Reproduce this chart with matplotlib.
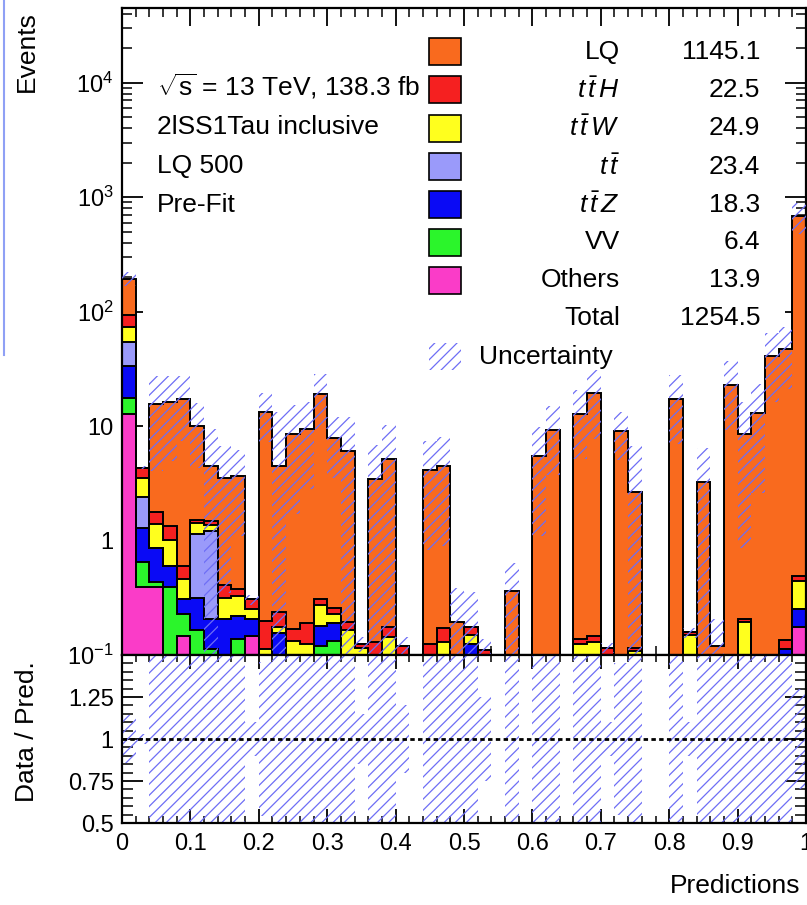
import numpy as np
import matplotlib
matplotlib.use("Agg")
import matplotlib.pyplot as plt
from matplotlib.patches import Rectangle
from matplotlib.ticker import FixedLocator, FuncFormatter, MultipleLocator, LogLocator, NullFormatter

plt.rcParams["font.family"] = ["Liberation Sans", "DejaVu Sans"]
plt.rcParams["mathtext.fontset"] = "custom"
plt.rcParams["mathtext.rm"] = "Liberation Sans"
plt.rcParams["mathtext.it"] = "Liberation Sans:italic"
plt.rcParams["mathtext.bf"] = "Liberation Sans:bold"
plt.rcParams["hatch.linewidth"] = 0.9

# ---- binned predictions (50 bins on [0, 1]) ----
bin_edges = np.linspace(0.0, 1.0, 51)

others = [12.65, 0.39, 0.39, 0, 0.148, 0, 0, 0, 0, 0.146,
          0, 0, 0, 0, 0, 0, 0, 0, 0, 0,
          0, 0, 0, 0, 0, 0, 0, 0, 0, 0,
          0, 0, 0, 0, 0, 0, 0, 0, 0, 0,
          0, 0, 0, 0, 0, 0, 0, 0, 0, 0.177]
vv = [4.955, 0.262, 0.046, 0.39, 0.078, 0.167, 0.112, 0, 0.137, 0,
      0, 0, 0, 0, 0.121, 0.132, 0, 0, 0, 0,
      0, 0, 0, 0, 0, 0, 0, 0, 0, 0,
      0, 0, 0, 0, 0, 0, 0, 0, 0, 0,
      0, 0, 0, 0, 0, 0, 0, 0, 0, 0]
ttz = [15.779, 0.638, 0.427, 0.207, 0.08, 0.149, 0.093, 0.205, 0.081, 0.059,
       0, 0.156, 0, 0, 0.058, 0.059, 0, 0, 0, 0,
       0, 0, 0, 0, 0, 0.124, 0, 0, 0, 0,
       0, 0, 0, 0, 0, 0, 0, 0, 0, 0,
       0, 0, 0, 0, 0, 0, 0, 0, 0.112, 0.073]
ttbar = [20.451, 1.12, 0, 0, 0, 0.834, 0.995, 0, 0, 0,
         0, 0, 0, 0, 0, 0, 0, 0, 0, 0,
         0, 0, 0, 0, 0, 0, 0, 0, 0, 0,
         0, 0, 0, 0, 0, 0, 0, 0, 0, 0,
         0, 0, 0, 0, 0, 0, 0, 0, 0, 0]
ttw = [19.964, 1.11, 0.537, 0.423, 0.16, 0.28, 0.16, 0.111, 0.109, 0.045,
       0.112, 0.021, 0.132, 0.124, 0.092, 0.035, 0.167, 0.116, 0, 0.145,
       0, 0, 0, 0.13, 0, 0.027, 0, 0, 0, 0,
       0, 0, 0, 0.125, 0.13, 0, 0, 0.108, 0, 0,
       0, 0.151, 0, 0, 0, 0.194, 0, 0, 0, 0.192]
tth = [19.333, 0.79, 0.38, 0.31, 0.131, 0.07, 0.11, 0.094, 0.047, 0.056,
       0.086, 0.06, 0.038, 0.065, 0.035, 0.033, 0.027, 0.008, 0.13, 0.032,
       0.12, 0, 0.124, 0.043, 0, 0.026, 0.11, 0, 0, 0,
       0, 0, 0, 0.014, 0.016, 0.116, 0, 0.008, 0, 0,
       0, 0.007, 0, 0, 0, 0.011, 0, 0, 0.024, 0.046]
lq = [100.5, 0, 13.82, 14.77, 16.70, 8.6, 2.98, 3.09, 3.27, 0,
      13.2, 4.21, 8.41, 9.30, 18.59, 7.55, 5.87, 0, 3.32, 4.98,
      0, 0, 3.99, 4.28, 0.194, 0, 0, 0, 0.36, 0,
      5.44, 9.3, 0, 12.66, 19.25, 0, 9.12, 2.54, 0, 0,
      17.3, 0, 3.23, 0.12, 23.0, 8.33, 13.0, 40.6, 46.96, 686.27]

# relative uncertainty of the total prediction per bin
rel_unc = [0.14, 0.03, 0.74, 0.69, 0.57, 0.57, 1.1, 0.9, 0.7, 0.1,
           0.46, 2.0, 0.8, 0.7, 0.5, 0.55, 1.0, 0.15, 1.0, 1.0,
           0.2, 0, 0.8, 0.8, 1.0, 1.0, 0.25, 0, 0.76, 0,
           0.8, 0.6, 0, 0.6, 0.6, 0.1, 0.45, 1.5, 0, 0,
           0.6, 0.1, 1.0, 0.72, 0.6, 0.9, 0.8, 0.6, 0.55, 0.3]

# stacking order, bottom to top
stack_series = [others, vv, ttz, ttbar, ttw, tth, lq]
stack_colors = ["#fa3cc8", "#2bf52b", "#0a0af5", "#9a9afa", "#ffff1e", "#f52020", "#f96a1e"]

# legend order, top to bottom
legend_labels = ["LQ", r"$t\,\bar{t}\,H$", r"$t\,\bar{t}\,W$", r"$t\,\bar{t}$", r"$t\,\bar{t}\,Z$", "VV", "Others"]
legend_series = [lq, tth, ttw, ttbar, ttz, vv, others]
legend_colors = ["#f96a1e", "#f52020", "#ffff1e", "#9a9afa", "#0a0af5", "#2bf52b", "#fa3cc8"]

hatch_color = "#6e6ef5"
hatch_style = "///"

W, H = 807, 905
fig = plt.figure(figsize=(W / 100, H / 100), dpi=100)

def px_box(x0, y0, x1, y1):
    return [x0 / W, 1 - y1 / H, (x1 - x0) / W, (y1 - y0) / H]

ax = fig.add_axes(px_box(122, 8, 806, 655))
axr = fig.add_axes(px_box(122, 655, 806, 823))

floor = 1e-3
cum = np.cumsum(np.array(stack_series, dtype=float), axis=0)
prev = np.zeros(50)
for top, col in zip(cum, stack_colors):
    ax.stairs(np.maximum(top, floor), bin_edges, baseline=np.maximum(prev, floor),
              fill=True, facecolor=col, edgecolor="none", linewidth=0, zorder=2)
    prev = top
for top in cum:
    ax.stairs(np.maximum(top, floor), bin_edges, baseline=None,
              color="black", linewidth=1.4, zorder=3)

total = cum[-1]
rel = np.array(rel_unc)
has = total > 0
band_lo = np.where(has, np.maximum(total * (1 - rel), floor), floor)
band_hi = np.where(has, total * (1 + rel), floor)
ax.stairs(band_hi, bin_edges, baseline=band_lo, fill=True, facecolor="none",
          edgecolor=hatch_color, hatch=hatch_style, linewidth=0, zorder=4)

ax.set_yscale("log")
ax.set_xlim(0, 1)
ax.set_ylim(0.1, 4.5e4)

def log_label(v, pos):
    names = {0.1: r"$10^{-1}$", 1: "1", 10: "10", 100: r"$10^{2}$",
             1000: r"$10^{3}$", 10000: r"$10^{4}$"}
    for k, s in names.items():
        if abs(v - k) < 1e-6 * k:
            return s
    return ""

ax.yaxis.set_major_locator(FixedLocator([0.1, 1, 10, 100, 1000, 10000]))
ax.yaxis.set_major_formatter(FuncFormatter(log_label))
ax.yaxis.set_minor_locator(LogLocator(base=10, subs=np.arange(2, 10), numticks=20))
ax.yaxis.set_minor_formatter(NullFormatter())
ax.xaxis.set_major_locator(MultipleLocator(0.1))
ax.xaxis.set_minor_locator(MultipleLocator(0.02))
ax.tick_params(axis="x", which="both", labelbottom=False)
ax.tick_params(axis="x", which="major", direction="in", length=13, width=1.3, top=True, bottom=True)
ax.tick_params(axis="x", which="minor", direction="in", length=6.5, width=1.1, top=True, bottom=True)
ax.tick_params(axis="y", which="major", direction="in", length=15, width=1.3, left=True, right=True,
               labelsize=17, pad=6)
ax.tick_params(axis="y", which="minor", direction="in", length=7.5, width=1.1, left=True, right=True)
for s in ax.spines.values():
    s.set_linewidth(1.6)

# ---- ratio panel ----
r_lo = np.where(has, 1 - rel, 1.0)
r_hi = np.where(has, 1 + rel, 1.0)
axr.stairs(r_hi, bin_edges, baseline=r_lo, fill=True, facecolor="none",
           edgecolor=hatch_color, hatch=hatch_style, linewidth=0, zorder=2)
axr.axhline(1.0, color="black", linestyle=(0, (1.6, 1.2)), linewidth=2.0, zorder=3)
axr.set_xlim(0, 1)
axr.set_ylim(0.5, 1.5)
axr.yaxis.set_major_locator(FixedLocator([0.5, 0.75, 1.0, 1.25, 1.5]))
ratio_names = {0.5: "0.5", 0.75: "0.75", 1.0: "1", 1.25: "1.25", 1.5: ""}
axr.yaxis.set_major_formatter(FuncFormatter(lambda v, p: ratio_names.get(round(v, 2), "")))
axr.yaxis.set_minor_locator(MultipleLocator(0.05))
axr.xaxis.set_major_locator(MultipleLocator(0.1))
axr.xaxis.set_minor_locator(MultipleLocator(0.02))
axr.xaxis.set_major_formatter(FuncFormatter(lambda v, p: "0" if abs(v) < 1e-9 else ("1" if abs(v - 1) < 1e-9 else f"{v:.1f}")))
axr.tick_params(axis="x", which="major", direction="in", length=10, width=1.3, top=True, bottom=True,
                labelsize=17, pad=7)
axr.tick_params(axis="x", which="minor", direction="in", length=5, width=1.1, top=True, bottom=True)
axr.tick_params(axis="y", which="major", direction="in", length=15, width=1.3, left=True, right=True,
                labelsize=17, pad=6)
axr.tick_params(axis="y", which="minor", direction="in", length=8, width=1.1, left=True, right=True)
for s in axr.spines.values():
    s.set_linewidth(1.6)

# ---- annotations in pixel coordinates ----
ov = fig.add_axes([0, 0, 1, 1], zorder=10)
ov.set_xlim(0, W)
ov.set_ylim(H, 0)
ov.axis("off")
ov.patch.set_alpha(0)

txt = dict(fontsize=19, color="black")
ov.text(27, 52, "Events", rotation=90, ha="center", va="center", **txt)
ov.text(27, 732, "Data / Pred.", rotation=90, ha="center", va="center", **txt)
ov.text(800, 886, "Predictions", ha="right", va="center", **txt)

ov.text(157, 86, r"$\sqrt{\mathrm{s}}$ = 13 TeV, 138.3 fb", ha="left", va="center", **txt)
ov.text(157, 127, "2lSS1Tau inclusive", ha="left", va="center", **txt)
ov.text(157, 166, "LQ 500", ha="left", va="center", **txt)
ov.text(157, 205, "Pre-Fit", ha="left", va="center", **txt)

row_y = [51.7, 90, 128.3, 166.7, 204.7, 242.3, 280.3, 318.3, 356.7]
for i, (lab, ser, col) in enumerate(zip(legend_labels, legend_series, legend_colors)):
    y = row_y[i]
    ov.add_patch(Rectangle((429, y - 13.5), 32, 27, facecolor=col, edgecolor="black", linewidth=1.2))
    ov.text(620, y, lab, ha="right", va="center", **txt)
    ov.text(760, y, f"{sum(ser):.1f}", ha="right", va="center", **txt)
grand_total = sum(sum(s) for s in stack_series)
ov.text(620, row_y[7], "Total", ha="right", va="center", **txt)
ov.text(760, row_y[7], f"{grand_total:.1f}", ha="right", va="center", **txt)
ov.add_patch(Rectangle((429, row_y[8] - 13.5), 32, 27, facecolor="none", edgecolor=hatch_color,
                       hatch=hatch_style, linewidth=0))
ov.text(479, row_y[8], "Uncertainty", ha="left", va="center", **txt)

ov.plot([4, 4], [0, 355], color="#8fa0f5", linewidth=1.5)

fig.savefig("out.png", dpi=100)
